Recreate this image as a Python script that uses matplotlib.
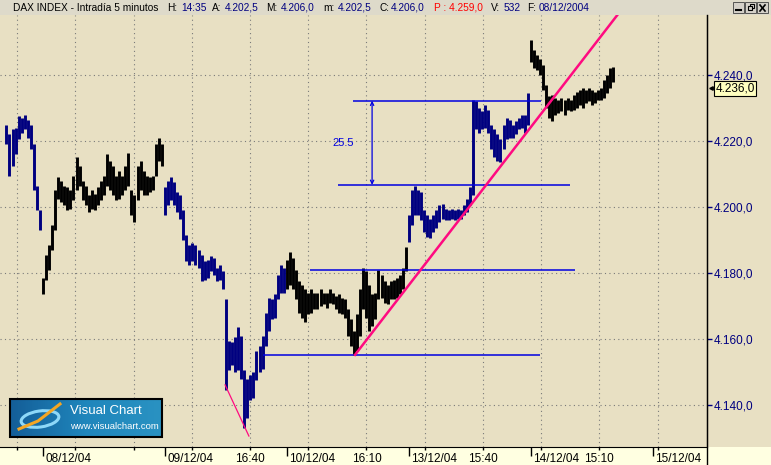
import matplotlib
matplotlib.use("Agg")
import matplotlib.pyplot as plt
import matplotlib.transforms as mtransforms
from matplotlib.patches import Rectangle, Ellipse
from matplotlib.colors import LinearSegmentedColormap
from matplotlib.ticker import FixedLocator, FixedFormatter, FuncFormatter
import numpy as np

plt.rcParams['font.family'] = ['Liberation Sans', 'DejaVu Sans']

# DAX intraday, one slot = 16.5 min, 40 slots per session (9:00-20:00)
sessions = ["07/12/04", "08/12/04", "09/12/04", "10/12/04", "13/12/04", "14/12/04"]
start_slot = [28, 0, 0, 0, 0, 0]

hi_07 = [4225, 4222, 4223.5, 4224, 4227.5, 4227, 4228, 4226.5, 4225, 4219, 4206.5, 4199]
lo_07 = [4219, 4209.5, 4212.5, 4216, 4220.5, 4222.5, 4223.5, 4221, 4217.5, 4205, 4199, 4193]

hi_08 = [4178.5, 4185.5, 4188.5, 4194.5, 4205, 4209, 4208, 4206.5, 4206, 4205,
         4209.5, 4215, 4212.5, 4208, 4206.5, 4203.5, 4205, 4204, 4206, 4208,
         4209.5, 4216, 4214, 4212.5, 4209.5, 4211, 4209.5, 4212.5, 4216.5, 4205,
         4203.5, 4212.5, 4214, 4211, 4209.5, 4209, 4209.5, 4219, 4221, 4219]
lo_08 = [4173.5, 4178, 4181, 4187, 4193, 4202.5, 4201.5, 4200.5, 4199, 4199.5,
         4202, 4205, 4206.5, 4202, 4200.5, 4198.5, 4199.5, 4199, 4200.5, 4202,
         4203.5, 4206.5, 4205, 4203.5, 4202, 4202.5, 4203.5, 4205, 4206.5, 4197.5,
         4195.5, 4202, 4205, 4203.5, 4203.5, 4204.5, 4205, 4209.5, 4214, 4212.5]

hi_09 = [4206, 4208, 4209, 4207.5, 4204.5, 4203.5, 4199, 4191.5, 4188.5, 4189,
         4188.5, 4187, 4185.5, 4183.5, 4184, 4185, 4184.5, 4181.5, 4182.5, 4180.5,
         4172, 4159.5, 4159, 4160.5, 4163.5, 4161, 4150.5, 4148, 4149, 4150,
         4156.5, 4158, 4161, 4168, 4172.5, 4172, 4173.5, 4179.5, 4182.5, 4181.5]
lo_09 = [4197.5, 4200.5, 4202, 4200.5, 4198.5, 4196.5, 4190, 4183.5, 4182.5, 4183.5,
         4182.5, 4181.5, 4177.5, 4178, 4178.5, 4180.5, 4179.5, 4177.5, 4178, 4175,
         4144.5, 4150.5, 4152, 4150, 4150.5, 4148, 4133, 4136, 4141.5, 4142,
         4147.5, 4150, 4151, 4158, 4162.5, 4166, 4166.5, 4172, 4174, 4174]

hi_10 = [4184, 4186.5, 4184.5, 4181, 4177.5, 4176.5, 4175, 4174, 4175, 4174,
         4174, 4175, 4174, 4174, 4175, 4174, 4173, 4173.5, 4172.5, 4172,
         4169, 4166, 4162.5, 4167.5, 4175, 4181.5, 4180.5, 4176.5, 4173.5, 4174,
         4181, 4179.5, 4177.5, 4176.5, 4177.5, 4178, 4178.5, 4179.5, 4181.5, 4188]
lo_10 = [4175, 4176.5, 4175, 4172, 4168, 4166.5, 4165, 4167.5, 4168, 4169,
         4169, 4170, 4170.5, 4169.5, 4171, 4170.5, 4169, 4168, 4167.5, 4166.5,
         4161, 4158, 4155, 4156.5, 4161, 4169, 4166.5, 4162.5, 4164, 4166,
         4172, 4172.5, 4171, 4170.5, 4172, 4172, 4172.5, 4173.5, 4175, 4180.5]

hi_13 = [4197.5, 4205, 4206.5, 4205, 4204.5, 4199, 4197.5, 4196.5, 4197.5, 4199,
         4200.5, 4201, 4199.5, 4199, 4199.5, 4199, 4199.5, 4199, 4200.5, 4202.5,
         4206, 4232.5, 4232, 4230, 4229, 4231, 4229.5, 4225, 4223.5, 4222,
         4220.5, 4225, 4227, 4226.5, 4225, 4226, 4227, 4228, 4228, 4234.5]
lo_13 = [4189.5, 4194.5, 4197.5, 4197.5, 4196, 4192.5, 4191, 4190.5, 4192.5, 4193.5,
         4195.5, 4196.5, 4196, 4196, 4196.5, 4196, 4196.5, 4196.5, 4197.5, 4198.5,
         4200.5, 4203.5, 4223.5, 4222.5, 4223.5, 4224, 4222.5, 4217.5, 4215, 4214,
         4213.5, 4217.5, 4220.5, 4221, 4221, 4222, 4223.5, 4224, 4222.5, 4225]

hi_14 = [4250.5, 4247.5, 4246, 4245, 4243, 4237, 4233.5, 4234, 4233, 4232.5,
         4233, 4232.5, 4233, 4232.5, 4234, 4235, 4235.5, 4236, 4235.5, 4236,
         4235.5, 4235, 4235.5, 4236, 4238.5, 4240, 4242, 4242.5]
lo_14 = [4244, 4242, 4241.5, 4240, 4235.5, 4230, 4227, 4226, 4228, 4228.5,
         4229, 4228, 4229.5, 4229, 4229.5, 4230, 4231, 4230, 4231.5, 4232,
         4231, 4231.5, 4232.5, 4232.5, 4233, 4234.5, 4236, 4238]

highs = [hi_07, hi_08, hi_09, hi_10, hi_13, hi_14]
lows = [lo_07, lo_08, lo_09, lo_10, lo_13, lo_14]

# drawn objects on the chart (slot, price)
level_prices = [4232.2, 4206.7, 4180.9, 4155.2]
level_start = [141.6, 136.7, 127.5, 112.1]
level_end = [203.3, 212.8, 214.4, 203.0]
trend_x = [142.3, 230.0]
trend_y = [4155.2, 4260.2]
trend2_x = [99.7, 107.5]
trend2_y = [4146.1, 4130.6]
arrow_slot = 147.9
range_label = "25.5"
last_price = 4236.0

y_ticks = [4140, 4160, 4180, 4200, 4220, 4240]
day_labels = ["08/12/04", "09/12/04", "10/12/04", "13/12/04", "14/12/04", "15/12/04"]
time_labels = ["", "", "", "", "16:40", "", "16:10", "", "15:40", "", "15:10", ""]

title_items = [
    (13, "DAX INDEX - Intradía 5 minutos", "k"), (167.5, "H:", "k"), (181, "14:35", "navy"),
    (212, "A:", "k"), (225, "4.202,5", "navy"), (266.5, "M:", "k"), (281, "4.206,0", "navy"),
    (323, "m:", "k"), (337.5, "4.202,5", "navy"), (379, "C:", "k"), (391, "4.206,0", "navy"),
    (433.5, "P : 4.259,0", "#FF0000"), (491, "V:", "k"), (503.5, "532", "navy"),
    (527, "F:", "k"), (538.5, "08/12/2004", "navy"),
]

# colours
PLOT_BG = '#E8E0C3'
STRIP_BG = '#FFFFE1'
TITLE_BG = '#DEDACA'
NAVY = '#000080'
LINE_BLUE = '#0000E0'
PINK = '#FF0A80'

W, H, DPI = 771, 465, 100
TOP, BOTTOM, RIGHT = 15, 447, 707
PX_SLOT = 3.05          # pixels per slot
SLOT0 = 79 / PX_SLOT    # slot at left edge
PX_PT = 3.3             # pixels per index point


def price_at(py):
    return 4240 - (py - 75) / PX_PT


def euro(v):
    return f"{v:,.1f}".replace(',', 'X').replace('.', ',').replace('X', '.')


fig = plt.figure(figsize=(W / DPI, H / DPI), dpi=DPI, facecolor=PLOT_BG)
fig.add_artist(Rectangle((0, 0), 1, (H - BOTTOM) / H, transform=fig.transFigure,
                         facecolor=STRIP_BG, edgecolor='none', zorder=-1))

ax = fig.add_axes([0, (H - BOTTOM) / H, RIGHT / W, (BOTTOM - TOP) / H])
ax.set_facecolor(PLOT_BG)

#bars, sessions alternate navy / black
xs, los, his, cols = [], [], [], []
for d, (hi, lo) in enumerate(zip(highs, lows)):
    g = 40 * d + start_slot[d] + np.arange(len(hi))
    xs.extend(g)
    his.extend(hi)
    los.extend(lo)
    cols.extend([NAVY if d % 2 == 0 else 'black'] * len(hi))
ax.vlines(xs, los, his, colors=cols, linewidth=2.1, zorder=3)

#support / resistance lines and trend lines
ax.hlines(level_prices, level_start, level_end, colors=LINE_BLUE, linewidth=1.1, zorder=4)
ax.plot(trend_x, trend_y, color=PINK, lw=1.8, zorder=5)
ax.plot(trend2_x, trend2_y, color=PINK, lw=0.9, zorder=5)
ax.annotate('', xy=(arrow_slot, level_prices[0]), xytext=(arrow_slot, level_prices[1]),
            arrowprops=dict(arrowstyle='<->', color=LINE_BLUE, lw=0.9,
                            shrinkA=0, shrinkB=0, mutation_scale=6), zorder=4)
ax.text(arrow_slot - 9.5, (level_prices[0] + level_prices[1]) / 2, range_label,
        color=LINE_BLUE, fontsize=8, ha='center', va='center')

ax.set_xlim(SLOT0, SLOT0 + RIGHT / PX_SLOT)
ax.set_ylim(price_at(BOTTOM), price_at(TOP))

#y axis on the right
ax.yaxis.tick_right()
ax.yaxis.set_major_locator(FixedLocator(y_ticks))
ax.yaxis.set_major_formatter(FuncFormatter(lambda v, p: euro(v)))
ax.tick_params(axis='y', which='major', length=3.6, width=1, color=NAVY,
               labelcolor=NAVY, labelsize=8.5, pad=1.5)

#x axis: session separators and grid ticks every 315 minutes
grid_x = [80 + 460 / 660 * 40 + k * 315 / 660 * 40 for k in range(-4, 8)]
ax.xaxis.set_major_locator(FixedLocator([40 * (i + 1) for i in range(len(day_labels))]))
ax.xaxis.set_major_formatter(FixedFormatter(day_labels))
ax.xaxis.set_minor_locator(FixedLocator(grid_x))
ax.xaxis.set_minor_formatter(FixedFormatter(time_labels))
ax.tick_params(axis='x', which='major', length=6.5, width=1, color='k',
               labelsize=8.5, pad=-2.2)
ax.tick_params(axis='x', which='minor', length=2.2, width=1, color='k',
               labelsize=8.5, pad=2.3)
offset = mtransforms.ScaledTranslation(0.025, 0, fig.dpi_scale_trans)
for lab in ax.xaxis.get_majorticklabels():
    lab.set_ha('left')
    lab.set_transform(lab.get_transform() + offset)

ax.grid(which='minor', axis='x', color='#7a7a7a', linestyle=(0, (1, 3)), lw=0.8, zorder=0)
ax.grid(which='major', axis='y', color='#7a7a7a', linestyle=(0, (1, 3)), lw=0.8, zorder=0)
ax.grid(which='major', axis='x', visible=False)
ax.set_axisbelow(True)

for side in ['left', 'top']:
    ax.spines[side].set_visible(False)
ax.spines['right'].set_color('k')
ax.spines['bottom'].set_color('k')

#last price box
blend = mtransforms.blended_transform_factory(ax.transAxes, ax.transData)
ax.text(1 + 8.5 / RIGHT, last_price, euro(last_price),
        transform=blend, fontsize=8.5, ha='left', va='center', clip_on=False,
        bbox=dict(boxstyle='square,pad=0.12', fc='#FFFFC0', ec='k', lw=0.8))
ax.plot([1 + 3.5 / RIGHT], [last_price], transform=blend, marker='<', ms=2.5,
        color='k', clip_on=False)

#overlay in pixel coordinates for the window decorations
ov = fig.add_axes([0, 0, 1, 1], zorder=10)
ov.patch.set_alpha(0)
ov.axis('off')

ov.add_patch(Rectangle((0, 0), W, TOP, facecolor=TITLE_BG, edgecolor='none'))
for x, s, c in title_items:
    ov.text(x, 7.8, s, color=c, fontsize=7.3, ha='left', va='center')

for bx in [733, 745, 757]:
    ov.add_patch(Rectangle((bx, 2.5), 11, 10.5, facecolor='#D4D0C8', edgecolor='#404040', lw=0.6))
ov.plot([736, 741], [10.5, 10.5], color='k', lw=1.5)
ov.add_patch(Rectangle((749.5, 4.5), 4.5, 4, fill=False, ec='k', lw=0.8))
ov.add_patch(Rectangle((747.5, 6.5), 4.5, 4, facecolor='#D4D0C8', ec='k', lw=0.8))
ov.plot([760, 765], [5, 11], color='k', lw=1.2)
ov.plot([760, 765], [11, 5], color='k', lw=1.2)

ov.plot([RIGHT, RIGHT], [TOP, H], color='k', lw=1)

#Visual Chart logo
logo_cmap = LinearSegmentedColormap.from_list('vc', ['#145E98', '#1F86BC', '#2A92C2'])
ov.imshow(np.linspace(0, 1, 60)[None, :], extent=[10, 162, 437, 399], cmap=logo_cmap,
          aspect='auto', zorder=1)
ov.add_patch(Ellipse((40, 419), 38, 16, angle=-8, fill=False, ec='#8ED8F8', lw=2.2, zorder=2))
ov.plot([19, 38, 60], [429, 421, 404], color='#F5A623', lw=2.2, zorder=3)
ov.add_patch(Rectangle((10, 399), 152, 38, fill=False, ec='k', lw=1.5, zorder=4))
ov.text(70, 410.5, "Visual Chart", color='white', fontsize=9.5, ha='left', va='center', zorder=5)
ov.text(70.5, 426.5, "www.visualchart.com", color='white', fontsize=6.8, ha='left',
        va='center', zorder=5)

ov.set_xlim(0, W)
ov.set_ylim(H, 0)

fig.savefig('out.png', dpi=DPI, facecolor=fig.get_facecolor())
